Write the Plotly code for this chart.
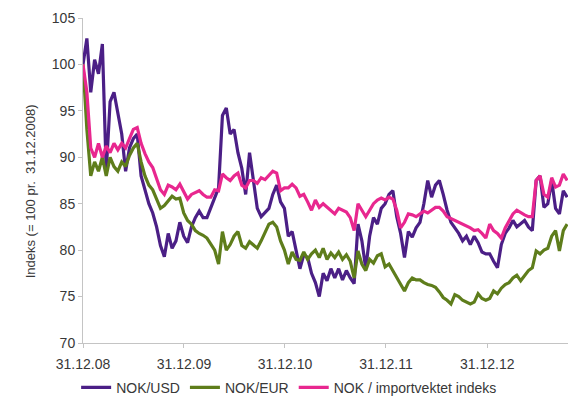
import pandas as pd
import plotly.graph_objects as go

# Fortnightly observations from 31.12.2008
dates = pd.date_range("2008-12-31", periods=126, freq="14D")

nok_usd = [
    100, 102.8, 97, 100.5, 99, 102.2, 88.5, 96, 97, 94.5,
    92.5, 88.5, 91, 92, 92.5, 88, 86.5, 85, 84, 82.5,
    80.5, 79.3, 81.8, 80.2, 81, 83, 81.5, 80.8, 82.5, 83.5,
    84.2, 83.5, 83.5, 84.5, 85.5, 86.7, 94.5, 95.3, 92.5, 93,
    90.5, 88.8, 86, 90.5, 87.5, 84.5, 83.6, 84, 84.5, 86,
    87, 85.2, 84.5, 81.5, 82, 80, 78, 79.5, 79.2, 77.5,
    76.5, 75, 77.5, 76.7, 78, 77, 78, 76.8, 77.8, 77,
    76.4, 82.8, 81, 78, 81.5, 83.5, 82.8, 84.5, 85, 86,
    86.4, 83.6, 81.8, 79.2, 82, 81.4, 82.4, 83, 85, 87.5,
    85.7, 87, 87.5, 86, 84.3, 83, 82.4, 81.8, 81, 81.5,
    80.6, 81.5, 80.8, 79.8, 79.6, 79.6, 78.8, 78.1, 80.6, 81.8,
    82.4, 83.2, 82.5, 82.8, 83.2, 82.5, 82.1, 87.5, 88, 84.6,
    85, 87.5, 84.5, 83.9, 86.4, 85.7,
]

nok_eur = [
    100, 93, 88, 89.5, 88.5, 90, 88, 90, 89, 88.5,
    89.5, 89, 90.2, 91, 91.5, 89.5, 88, 87, 86.5, 85.5,
    84.5, 84.8, 85.3, 85.8, 85.5, 85.6, 84, 83.2, 82.8, 82.1,
    81.8, 81.6, 81.3, 80.6, 80, 78.5, 82, 80, 80.6, 81.5,
    82, 80.5, 80.2, 80.9, 80.5, 80.2, 81, 82, 82.8, 83,
    82.5, 81, 80, 78.5, 79.8, 79, 78.9, 79.8, 79, 79.6,
    80, 79.2, 80.2, 79, 79.7, 79.2, 79.8, 79, 79.5, 78.8,
    77, 79.9, 78.5, 77.8, 79, 78.6, 79.4, 79.6, 78.2, 78.5,
    77.8, 77, 76.3, 75.6, 76.5, 77, 76.8, 76.8, 76.5, 76.3,
    76.2, 76, 75.5, 74.9, 74.6, 74.2, 75.2, 75, 74.6, 74.4,
    74.2, 74.4, 75.3, 74.8, 74.6, 74.8, 75.6, 75.3, 75.9, 76.3,
    76.5, 77, 77.3, 76.7, 77.2, 77.8, 78.1, 79.9, 79.6, 80,
    80.2, 81.5, 82.1, 79.9, 82.1, 82.8,
]

nok_import = [
    100, 97, 91, 90, 91.5, 90, 91.2, 90.5, 91.5, 90.8,
    91.5, 91, 92, 93, 93.2, 91.5, 90.4, 89.5, 88.9, 87.8,
    86.5, 86, 87, 86.8, 86.5, 87.1, 86.2, 85.5, 86, 86.2,
    86.4, 86, 85.7, 85.7, 86.5, 86.4, 88.2, 87.8, 87.5, 88,
    88.3, 87, 86.7, 87.5, 87.5, 87.2, 87.8, 87.6, 88, 88.5,
    88.3, 86.4, 86.7, 86.7, 87.1, 86.7, 85.8, 86, 85.2, 84.3,
    85.4, 84.6, 85, 84.6, 84.2, 83.9, 84.5, 84.3, 84.1, 83.5,
    82.1, 85, 84.3, 83.6, 84.3, 85, 85.4, 85.6, 85.4, 85.7,
    85.5, 84.3, 82.4, 83, 83.9, 83.8, 83.6, 83.9, 84.2, 84,
    84.3, 84.6, 84.6, 84.2, 83.6, 83.4, 83.2, 83, 82.8, 82.6,
    82.4, 82.1, 82.2, 81.8, 81.3, 82.8, 82.1, 81.8, 81.3, 82.4,
    83.2, 83.9, 84.3, 84, 83.8, 83.6, 83.6, 87.5, 88, 86,
    85.7, 87.8, 86.8, 87, 88.2, 87.5,
]

tick_dates = ["2008-12-31", "2009-12-31", "2010-12-31", "2011-12-31", "2012-12-31"]
tick_labels = ["31.12.08", "31.12.09", "31.12.10", "31.12.11", "31.12.12"]

series = [
    ("NOK/USD", nok_usd, "#4B1F86"),
    ("NOK/EUR", nok_eur, "#5E7D1B"),
    ("NOK / importvektet indeks", nok_import, "#E8278F"),
]

fig = go.Figure()
for name, vals, col in series:
    fig.add_trace(go.Scatter(x=dates, y=vals, mode="lines", name=name,
                             line=dict(color=col, width=3.2)))

txt = "#383838"
font = dict(family="Liberation Sans, Arial, sans-serif", size=14, color=txt)

fig.update_layout(
    width=568, height=399,
    margin=dict(l=83, r=0, t=18, b=56, autoexpand=False),
    paper_bgcolor="white", plot_bgcolor="white",
    font=font,
    showlegend=True,
    legend=dict(orientation="h", x=0.425, xanchor="center",
                yref="container", y=0.028, yanchor="middle",
                font=dict(size=14, color=txt), itemwidth=30,
                tracegroupgap=0),
    xaxis=dict(range=["2008-12-31", "2013-10-19"], tickvals=tick_dates, ticktext=tick_labels,
               showgrid=False, zeroline=False, showline=True, linecolor="#c4c4c4",
               linewidth=1, ticks="outside", ticklen=4, tickcolor="#c4c4c4",
               ticklabelstandoff=4, tickfont=dict(size=14, color=txt)),
    yaxis=dict(range=[70, 105], dtick=5, showgrid=False, zeroline=False,
               showline=True, linecolor="#c4c4c4", linewidth=1,
               ticks="outside", ticklen=4, tickcolor="#c4c4c4",
               tickfont=dict(size=14, color=txt)),
    annotations=[dict(text="Indeks (= 100 pr.  31.12.2008)", textangle=-90,
                      xref="paper", yref="paper", x=-0.128, y=0.468,
                      showarrow=False, font=dict(size=13, color=txt))],
)

fig.write_html("out.html")
